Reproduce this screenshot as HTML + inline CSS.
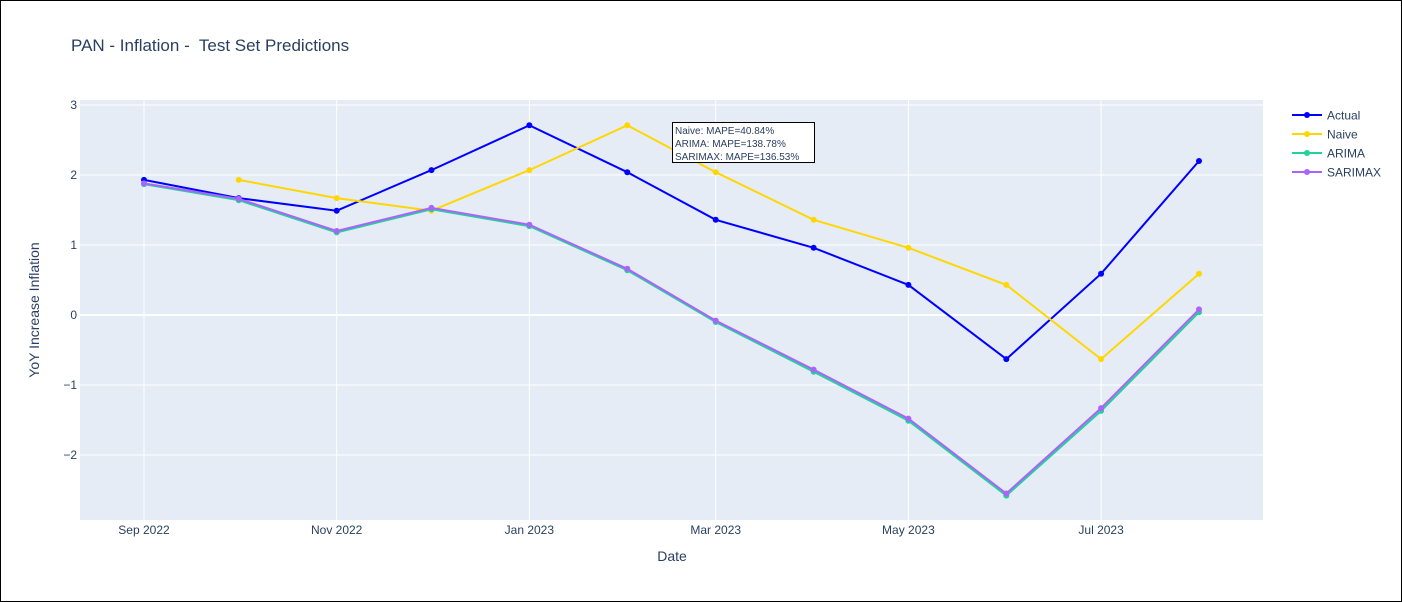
<!DOCTYPE html>
<html><head><meta charset="utf-8"><style>
body{margin:0;background:#fff}
svg{display:block;font-family:"Liberation Sans",sans-serif}
</style></head><body>
<svg id="chart" width="1402" height="602">
<rect x="0.5" y="0.5" width="1401" height="601" fill="#fff" stroke="#000"/>
<text x="71" y="51" font-size="17" fill="#2a3f5f" style="white-space:pre">PAN - Inflation -  Test Set Predictions</text>
<rect x="80" y="100" width="1183" height="420" fill="#e5ecf6"/>
<g id="grid"></g><g id="series"></g>
<text x="672" y="561" font-size="14" fill="#2a3f5f" text-anchor="middle">Date</text>
<text transform="translate(39,310) rotate(-90)" font-size="14" fill="#2a3f5f" text-anchor="middle">YoY Increase Inflation</text>
<g>
<rect x="672.5" y="122.5" width="142" height="40" fill="#fff" stroke="#000"/>
<text x="675" y="134" font-size="10" fill="#2a3f5f">Naive: MAPE=40.84%</text>
<text x="675" y="147" font-size="10" fill="#2a3f5f">ARIMA: MAPE=138.78%</text>
<text x="675" y="160" font-size="10" fill="#2a3f5f">SARIMAX: MAPE=136.53%</text>
</g>
<g id="legend"></g>
</svg>
<script>
const dates=["2022-09-01","2022-10-01","2022-11-01","2022-12-01","2023-01-01","2023-02-01","2023-03-01","2023-04-01","2023-05-01","2023-06-01","2023-07-01","2023-08-01"];
const actual=[1.93,1.67,1.49,2.07,2.71,2.04,1.36,0.96,0.43,-0.63,0.59,2.20];
const naive=[null,1.93,1.67,1.49,2.07,2.71,2.04,1.36,0.96,0.43,-0.63,0.59];
const arima=[1.87,1.64,1.18,1.51,1.27,0.64,-0.10,-0.81,-1.51,-2.58,-1.37,0.04];
const sarimax=[1.88,1.66,1.20,1.53,1.29,0.66,-0.08,-0.78,-1.48,-2.55,-1.33,0.08];
const yTicks=[3,2,1,0,-1,-2];
const xTickDates=["2022-09-01","2022-11-01","2023-01-01","2023-03-01","2023-05-01","2023-07-01"];
const xTickLabels=["Sep 2022","Nov 2022","Jan 2023","Mar 2023","May 2023","Jul 2023"];
const seriesNames=["Actual","Naive","ARIMA","SARIMAX"];
const colors=["#0000ff","#ffd700","#1fd39a","#ab63fa"];

const NS="http://www.w3.org/2000/svg";
const d0=Date.parse("2022-09-01"),d1=Date.parse("2023-08-01");
const X=d=>144+(Date.parse(d)-d0)/(d1-d0)*1055;
const Y=v=>315-v*70;
function mk(t,a,p){const e=document.createElementNS(NS,t);for(const k in a)e.setAttribute(k,a[k]);p.appendChild(e);return e;}
const grid=document.getElementById('grid');
yTicks.forEach(v=>{
 const l=mk('line',{x1:80,x2:1263,y1:Y(v),y2:Y(v),stroke:'#fff','stroke-width':v===0?2:1},grid);
 
 
 const t=mk('text',{x:77,y:Y(v)+4,'text-anchor':'end','font-size':12,fill:'#2a3f5f'},grid);
 t.textContent=v<0?'\u2212'+(-v):String(v);
 
 
});
xTickDates.forEach((d,i)=>{
 const l=mk('line',{x1:X(d),x2:X(d),y1:100,y2:520,stroke:'#fff'},grid);
 
 
 const t=mk('text',{x:X(d),y:534,'text-anchor':'middle','font-size':12,fill:'#2a3f5f'},grid);
 t.textContent=xTickLabels[i];
 
 
});
const sg=document.getElementById('series');
[actual,naive,arima,sarimax].forEach((vals,si)=>{
 const g=mk('g',{},sg);
 
 
 const pts=[];vals.forEach((v,i)=>{if(v!==null)pts.push([X(dates[i]),Y(v)]);});
 mk('polyline',{points:pts.map(p=>p.join(',')).join(' '),fill:'none',stroke:colors[si],'stroke-width':2},g);
 pts.forEach(p=>{const c=mk('circle',{cx:p[0],cy:p[1],r:3,fill:colors[si]},g);
  
  });
});
const lg=document.getElementById('legend');
seriesNames.forEach((n,i)=>{
 const g=mk('g',{},lg);
 
 
 const y=115+i*19;
 mk('line',{x1:1292,x2:1322,y1:y,y2:y,stroke:colors[i],'stroke-width':2},g);
 mk('circle',{cx:1307,cy:y,r:3,fill:colors[i]},g);
 const t=mk('text',{x:1327,y:y+4.5,'font-size':12,fill:'#2a3f5f'},g);t.textContent=n;
});
</script>
</body></html>
